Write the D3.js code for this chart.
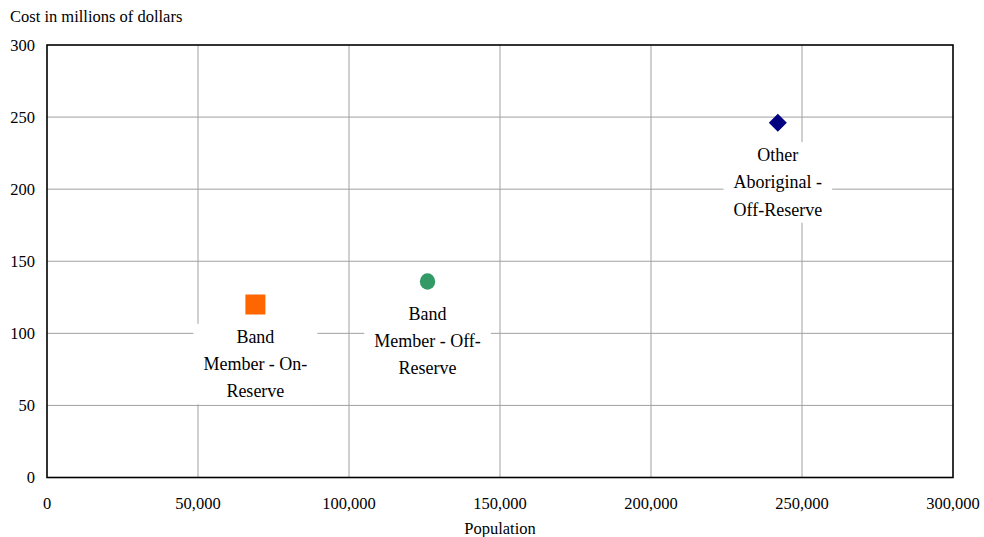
<!DOCTYPE html>
<html><head><meta charset="utf-8">
<script src="https://cdn.jsdelivr.net/npm/d3@7"></script>
<style>body{margin:0;background:#fff}svg{display:block}text{font-family:"Liberation Serif","Times New Roman",serif;fill:#000}</style>
</head><body><svg id="c" width="984" height="537"></svg>
<script>
const names = [["Band", "Member - On-", "Reserve"], ["Band", "Member - Off-", "Reserve"], ["Other", "Aboriginal -", "Off-Reserve"]];
const population = [69000, 126000, 242000];
const cost = [120, 136, 246];
const colors = ["#FF6600", "#339966", "#000080"];
const shapes = ["square", "circle", "diamond"];
const xTicks = [0, 50000, 100000, 150000, 200000, 250000, 300000];
const yTicks = [0, 50, 100, 150, 200, 250, 300];

const svg = d3.select("#c");
const m = {l: 47, r: 953, t: 45, b: 477.5};
const x = d3.scaleLinear().domain([0, 300000]).range([m.l, m.r]);
const y = d3.scaleLinear().domain([0, 300]).range([m.b, m.t]);
const fmt = d3.format(",");

const g = svg.append("g");
// gridlines
g.selectAll(".vg").data(xTicks.slice(1, -1)).join("line")
  .attr("x1", d => x(d)).attr("x2", d => x(d)).attr("y1", m.t).attr("y2", m.b)
  .attr("stroke", "#a0a0a0").attr("stroke-width", 1);
g.selectAll(".hg").data(yTicks.slice(1, -1)).join("line")
  .attr("y1", d => y(d)).attr("y2", d => y(d)).attr("x1", m.l).attr("x2", m.r)
  .attr("stroke", "#a0a0a0").attr("stroke-width", 1);

// tick labels
svg.selectAll(".yt").data(yTicks).join("text")
  .attr("x", 35).attr("y", d => y(d)).attr("dy", "0.35em").attr("text-anchor", "end")
  .style("font-size", "16.5px").text(d => d);
svg.selectAll(".xt").data(xTicks).join("text")
  .attr("x", d => x(d)).attr("y", 503).attr("dy", "0.35em").attr("text-anchor", "middle")
  .style("font-size", "16.5px").text(d => fmt(d));

svg.append("text").attr("x", 10).attr("y", 22).style("font-size", "16.5px").text("Cost in millions of dollars");
svg.append("text").attr("x", x(150000)).attr("y", 534).attr("text-anchor", "middle").style("font-size", "16.5px").text("Population");

// labels with white boxes
const lineH = 27.3;
names.forEach((lines, i) => {
  const cx = x(population[i]), cy = y(cost[i]);
  const lg = svg.append("g");
  const t = lg.append("text").attr("text-anchor", "middle").style("font-size", "18px");
  lines.forEach((l, j) => {
    t.append("tspan").attr("x", cx).attr("y", cy + 32 + j * lineH).attr("dy", "0.35em").text(l);
  });
  const bb = t.node().getBBox();
  lg.insert("rect", "text").attr("x", bb.x - 10).attr("y", bb.y - 3)
    .attr("width", bb.width + 20).attr("height", bb.height + 6).attr("fill", "#fff");
});

// markers
const sym = {square: d3.symbolSquare, circle: d3.symbolCircle, diamond: d3.symbolSquare};
const size = {square: 400, circle: 185, diamond: 162};
population.forEach((p, i) => {
  const s = shapes[i];
  const path = svg.append("path")
    .attr("d", d3.symbol().type(sym[s]).size(size[s])())
    .attr("fill", colors[i]);
  let tr = `translate(${x(p)},${y(cost[i])})`;
  if (s === "diamond") tr += " rotate(45)";
  if (s === "circle") tr += " scale(1,1.07)";
  path.attr("transform", tr);
});

// frame
svg.append("rect").attr("x", m.l).attr("y", m.t).attr("width", m.r - m.l).attr("height", m.b - m.t)
  .attr("fill", "none").attr("stroke", "#000").attr("stroke-width", 1.6);
</script></body></html>
